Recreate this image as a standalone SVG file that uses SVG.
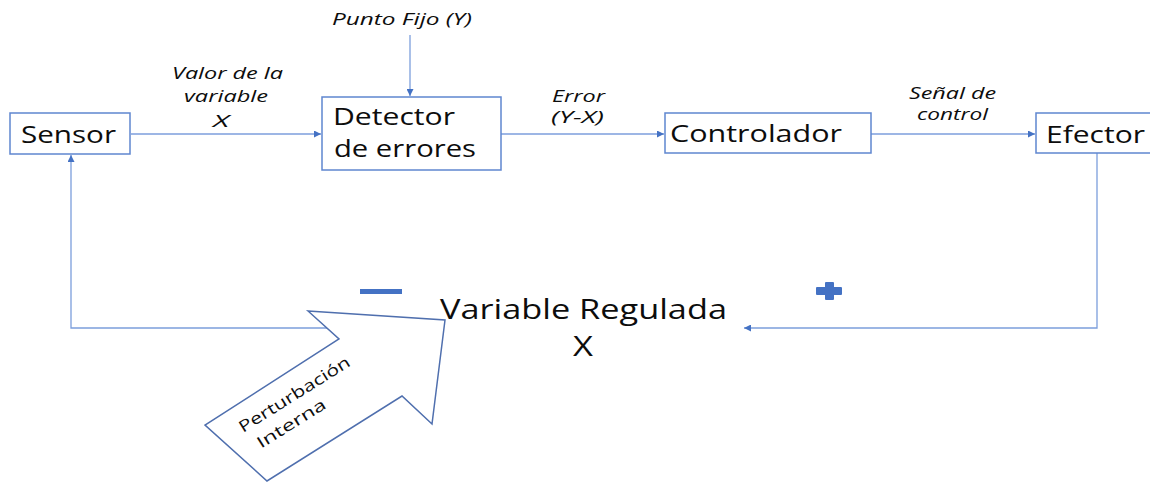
<svg xmlns="http://www.w3.org/2000/svg" width="1150" height="482" viewBox="0 0 1150 482">
<defs>
<style>
.box{fill:#fff;stroke:#5f86cf;stroke-width:1.5}
.main{font-family:"Open Sans","Noto Sans",sans-serif;fill:#0d0d0d}
.lbl{font-family:"Open Sans","Noto Sans",sans-serif;font-style:italic;font-size:16px;fill:#0d0d0d}
.con{fill:none;stroke:#7c9edc;stroke-width:1.3}
.sign{fill:#4472c4}
</style>
<marker id="ah" markerUnits="userSpaceOnUse" markerWidth="8" markerHeight="7" refX="7" refY="3.5" orient="auto">
<path d="M0,0 L7,3.5 L0,7 z" fill="#4472c4"/>
</marker>
</defs>
<rect width="1150" height="482" fill="#fff"/>

<g id="connectors">
<path class="con" d="M131,134 H321" marker-end="url(#ah)"/>
<path class="con" d="M410,35 V96" marker-end="url(#ah)"/>
<path class="con" d="M501,134 H664" marker-end="url(#ah)"/>
<path class="con" d="M871,134 H1035" marker-end="url(#ah)"/>
<path class="con" d="M1097,153 V328 H744" marker-end="url(#ah)"/>
<path class="con" d="M327,328 H71 V155" marker-end="url(#ah)"/>
</g>

<g id="sensor">
<rect class="box" x="10" y="113" width="120" height="41"/>
<text class="main" x="21" y="143" font-size="24" textLength="95" lengthAdjust="spacingAndGlyphs">Sensor</text>
</g>

<g id="detector">
<rect class="box" x="322" y="97" width="179" height="73"/>
<text class="main" x="333" y="125" font-size="24" textLength="122" lengthAdjust="spacingAndGlyphs">Detector</text>
<text class="main" x="334" y="157" font-size="24" textLength="142" lengthAdjust="spacingAndGlyphs">de errores</text>
</g>

<g id="controlador">
<rect class="box" x="665" y="113" width="206" height="40"/>
<text class="main" x="670" y="142" font-size="24" textLength="172" lengthAdjust="spacingAndGlyphs">Controlador</text>
</g>

<g id="efector">
<rect class="box" x="1036" y="113" width="130" height="40"/>
<text class="main" x="1046" y="143" font-size="24" textLength="99" lengthAdjust="spacingAndGlyphs">Efector</text>
</g>

<g id="punto-fijo">
<text class="lbl" x="332" y="25" font-size="17" textLength="140" lengthAdjust="spacingAndGlyphs">Punto Fijo (Y)</text>
</g>

<g id="label-valor">
<text class="lbl" x="172" y="79" textLength="111" lengthAdjust="spacingAndGlyphs">Valor de la</text>
<text class="lbl" x="184" y="102" textLength="84" lengthAdjust="spacingAndGlyphs">variable</text>
<text class="lbl" x="213" y="127" textLength="16" lengthAdjust="spacingAndGlyphs">X</text>
</g>

<g id="label-error">
<text class="lbl" x="552" y="102" font-size="15" textLength="53" lengthAdjust="spacingAndGlyphs">Error</text>
<text class="lbl" x="551" y="123" font-size="15" textLength="53" lengthAdjust="spacingAndGlyphs">(Y-X)</text>
</g>

<g id="label-senal">
<text class="lbl" x="909" y="99" font-size="15" textLength="87" lengthAdjust="spacingAndGlyphs">Señal de</text>
<text class="lbl" x="917" y="120" font-size="15" textLength="71" lengthAdjust="spacingAndGlyphs">control</text>
</g>

<g id="variable-regulada">
<text class="main" x="440" y="319" font-size="27" textLength="287" lengthAdjust="spacingAndGlyphs">Variable Regulada</text>
<text class="main" x="573" y="356" font-size="27" textLength="20" lengthAdjust="spacingAndGlyphs">X</text>
</g>

<g id="signs">
<rect class="sign" x="360" y="289" width="42" height="5"/>
<rect class="sign" x="816" y="287" width="26" height="8" rx="1"/>
<rect class="sign" x="825" y="282" width="9" height="18" rx="1"/>
</g>

<g id="perturbacion">
<polygon points="308,311 445,320 432,424 402,396 267,481 205,425 339,339" fill="#fff" stroke="#4f6fae" stroke-width="1.5"/>
<g transform="translate(243,433) rotate(-32)">
<text class="main" x="0" y="0" font-size="16" textLength="128" lengthAdjust="spacingAndGlyphs">Perturbación</text>
<text class="main" x="7" y="23" font-size="16" textLength="78" lengthAdjust="spacingAndGlyphs">Interna</text>
</g>
</g>
</svg>
